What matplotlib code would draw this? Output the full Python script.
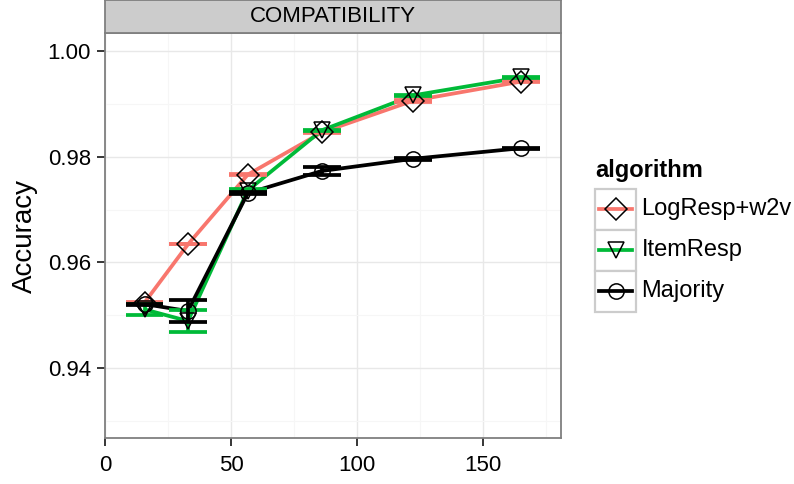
import matplotlib
matplotlib.use("Agg")
import matplotlib.pyplot as plt
from matplotlib.patches import Rectangle
from matplotlib.lines import Line2D
from matplotlib.ticker import MultipleLocator

plt.rcParams['font.family'] = ['Liberation Sans', 'DejaVu Sans']

# data
n_items = [15.7, 32.9, 56.6, 86.0, 122.2, 164.8]
algorithms = ['LogResp+w2v', 'ItemResp', 'Majority']
logresp = [0.9524, 0.9634, 0.9766, 0.9846, 0.9906, 0.9942]
logresp_se = [0.0001, 0.0000, 0.0001, 0.0001, 0.0002, 0.0001]
itemresp = [0.9511, 0.9489, 0.9736, 0.9850, 0.9916, 0.9950]
itemresp_se = [0.0011, 0.0021, 0.0002, 0.0001, 0.0001, 0.0001]
majority = [0.9521, 0.9508, 0.9731, 0.9773, 0.9796, 0.9816]
majority_se = [0.0001, 0.0020, 0.0002, 0.0008, 0.0002, 0.0001]

colors = ['#F8766D', '#00BA38', '#000000']
markers = ['D', 'v', 'o']
series = [(logresp, logresp_se), (itemresp, itemresp_se), (majority, majority_se)]

W, H = 794, 484
fig = plt.figure(figsize=(W / 100, H / 100), dpi=100)

left, right, top, bottom = 104.7, 561.0, 32.7, 438.0
ax = fig.add_axes([left / W, 1 - bottom / H, (right - left) / W, (bottom - top) / H])
ax.set_xlim(-0.1, 180.8)
ax.set_ylim(0.92677, 1.00346)

# grid like theme_bw
ax.xaxis.set_major_locator(MultipleLocator(50))
ax.xaxis.set_minor_locator(MultipleLocator(25))
ax.yaxis.set_major_locator(MultipleLocator(0.02))
ax.yaxis.set_minor_locator(MultipleLocator(0.01))
ax.grid(which='major', color='#E8E8E8', lw=1.0)
ax.grid(which='minor', color='#F6F6F6', lw=0.8)
ax.set_axisbelow(True)
ax.yaxis.set_major_formatter(matplotlib.ticker.FormatStrFormatter('%.2f'))
ax.tick_params(which='major', direction='out', length=6, width=1.1, color='black',
               labelsize=16, pad=4)
ax.tick_params(axis='x', which='major', pad=6.5)
ax.tick_params(which='minor', length=0)
for s in ax.spines.values():
    s.set_color('#7F7F7F')
    s.set_linewidth(1.3)

half_w = 7.5
# lines first, then error bars, then points (ggplot layer order)
for (vals, se), c in zip(series, colors):
    ax.plot(n_items, vals, color=c, lw=2.7, solid_capstyle='butt', zorder=3)
for (vals, se), c in zip(series, colors):
    lo = [v - e for v, e in zip(vals, se)]
    hi = [v + e for v, e in zip(vals, se)]
    xl = [x - half_w for x in n_items]
    xr = [x + half_w for x in n_items]
    ax.vlines(n_items, lo, hi, color=c, lw=2.7, zorder=4)
    ax.hlines(lo, xl, xr, color=c, lw=2.7, zorder=4)
    ax.hlines(hi, xl, xr, color=c, lw=2.7, zorder=4)
for (vals, se), m in zip(series, markers):
    ax.plot(n_items, vals, ls='none', marker=m, ms=11, mfc='none', mec='black',
            mew=1.1, zorder=5)

# facet strip
strip = fig.add_axes([left / W, 1 - top / H, (right - left) / W, top / H])
strip.set_facecolor('#CCCCCC')
strip.set_xticks([])
strip.set_yticks([])
for s in strip.spines.values():
    s.set_color('#7F7F7F')
    s.set_linewidth(1.3)
strip.text(0.5, 0.5, 'COMPATIBILITY', ha='center', va='center', fontsize=16,
           transform=strip.transAxes)

fig.text(25 / W, 1 - 236 / H, 'Accuracy', rotation=90, ha='center', va='center',
         fontsize=20)

# legend drawn in pixel space
lax = fig.add_axes([0, 0, 1, 1])
lax.set_xlim(0, W)
lax.set_ylim(H, 0)
lax.axis('off')
lax.text(595, 171, 'algorithm', fontsize=17, fontweight='bold', ha='left', va='center')
key_x, key_w, key_h, key_y0 = 595, 41, 41, 188.5
for i, (name, c, m) in enumerate(zip(algorithms, colors, markers)):
    y0 = key_y0 + i * key_h
    lax.add_patch(Rectangle((key_x, y0), key_w, key_h, fc='white', ec='#CCCCCC', lw=1.6))
    yc = y0 + key_h / 2
    lax.add_line(Line2D([key_x + 4, key_x + key_w - 4], [yc, yc], color=c, lw=2.7))
    lax.plot([key_x + key_w / 2], [yc], ls='none', marker=m, ms=11, mfc='none',
             mec='black', mew=1.1)
    lax.text(641.5, yc, name, fontsize=17, ha='left', va='center')

fig.savefig('out.png', dpi=100)
